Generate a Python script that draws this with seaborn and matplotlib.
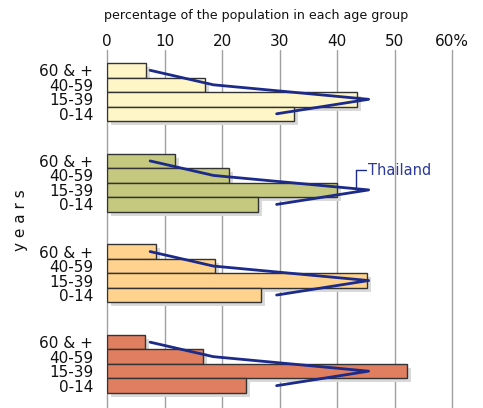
import numpy as np
import pandas as pd
import matplotlib
matplotlib.use("Agg")
import matplotlib.pyplot as plt
import matplotlib.transforms as mtransforms
import seaborn as sns

# datos
edades = ["60 & +", "40-59", "15-39", "0-14"]
grupo_1 = [6.7, 17.0, 43.5, 32.6]
grupo_2 = [11.9, 21.3, 40.0, 26.3]
grupo_3 = [8.5, 18.8, 45.3, 26.8]
grupo_4 = [6.6, 16.7, 52.1, 24.1]
tailandia = [7.5, 18.5, 45.5, 29.5]
ticks_x = [0, 10, 20, 30, 40, 50, 60]
etiquetas_x = ["0", "10", "20", "30", "40", "50", "60%"]
colores = ["#fff6c8", "#c5c97f", "#ffd38d", "#e07f5f"]

sns.set_style("white")
plt.rcParams['font.family'] = ['DejaVu Sans']

grupos = [grupo_1, grupo_2, grupo_3, grupo_4]
paso = 6.25
filas = []
for g, valores in enumerate(grupos):
    for i, (edad, v) in enumerate(zip(edades, valores)):
        filas.append({"grupo": g, "edad": edad, "valor": v, "pos": g * paso + i})
df = pd.DataFrame(filas)

fig = plt.figure(figsize=(4.83, 4.08), dpi=100)
ax = fig.add_axes([107 / 483, 0, 345 / 483, 358 / 408])

# lineas de la cuadricula
for t in ticks_x:
    ax.axvline(t, color="#a0a0a0", lw=1, zorder=0, clip_on=False)

# sombra
sns.barplot(data=df, x="valor", y="pos", orient="h", native_scale=True,
            width=1.0, color="#d9d9d9", saturation=1, errorbar=None,
            linewidth=0, ax=ax)
sombra = list(ax.patches)
desplaz = mtransforms.ScaledTranslation(0.04, -0.04, fig.dpi_scale_trans)
for p in sombra:
    p.set_transform(ax.transData + desplaz)
    p.set_zorder(1)

# barras
sns.barplot(data=df, x="valor", y="pos", hue="grupo", palette=colores,
            orient="h", native_scale=True, width=1.0, dodge=False,
            saturation=1, errorbar=None, edgecolor="#333333", linewidth=1,
            legend=False, ax=ax)
for p in ax.patches[len(sombra):]:
    p.set_zorder(2)

# linea de Tailandia en cada grupo
for g in range(len(grupos)):
    pos = [g * paso + i for i in range(len(edades))]
    sns.lineplot(x=tailandia, y=pos, sort=False, estimator=None,
                 color="#1c2a8a", lw=2, ax=ax, zorder=3)

ax.text(45.4, 6.88, "Thailand", color="#2b3a9a", fontsize=10.5,
        ha="left", va="center", zorder=4)
ax.plot([43.3, 45.0], [6.88, 6.88], color="#1c2a8a", lw=1, zorder=3)
ax.plot([43.3, 43.3], [6.88, 8.15], color="#1c2a8a", lw=1, zorder=3)

ax.set_xlim(0, 60)
ax.set_ylim(23.29, -1.40)
ax.xaxis.tick_top()
ax.set_xticks(ticks_x)
ax.set_xticklabels(etiquetas_x, fontsize=11, color="#111111")
pos_y = [g * paso + i for g in range(len(grupos)) for i in range(len(edades))]
ax.set_yticks(pos_y)
ax.set_yticklabels(edades * len(grupos), fontsize=11, color="#111111")
ax.tick_params(axis="x", length=0, pad=1)
ax.tick_params(axis="y", length=0, pad=10)
ax.set_xlabel("")
ax.set_ylabel("")
for s in ax.spines.values():
    s.set_visible(False)

fig.text(256 / 483, 1 - 15 / 408, "percentage of the population in each age group",
         ha="center", va="center", fontsize=9.1, color="#111111")
fig.text(20 / 483, 1 - 220 / 408, "y e a r s", rotation=90,
         ha="center", va="center", fontsize=11, color="#111111")

fig.savefig("out.png", dpi=100)
